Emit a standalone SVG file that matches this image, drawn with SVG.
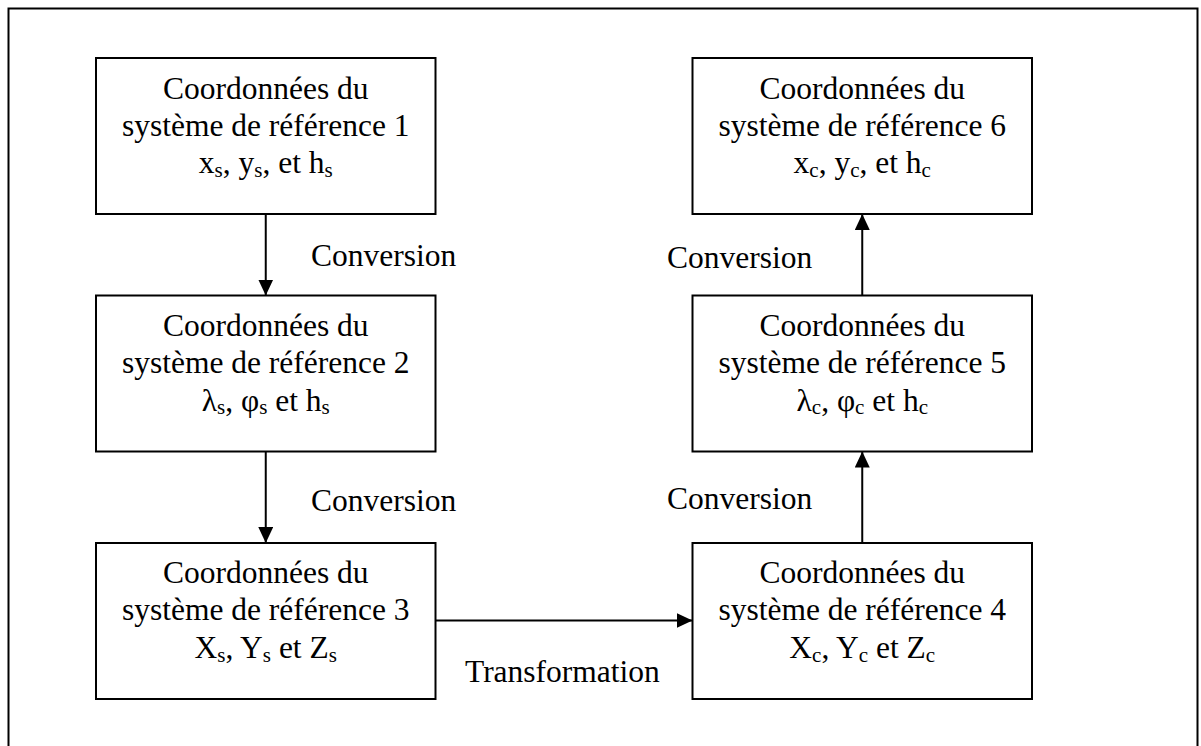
<svg xmlns="http://www.w3.org/2000/svg" width="1201" height="746" viewBox="0 0 1201 746">
<style>
.box{fill:#fff;stroke:#000;stroke-width:2}
.frame{fill:none;stroke:#000;stroke-width:2}
.t{font-family:"Liberation Serif","Times New Roman",serif;font-size:31.5px;fill:#000}
.c{text-anchor:middle}
.sub{font-size:21px}
.conn{stroke:#000;stroke-width:2;fill:none;marker-end:url(#ah)}
</style>
<defs>
<marker id="ah" markerUnits="userSpaceOnUse" markerWidth="16" markerHeight="15" refX="16" refY="7.5" orient="auto">
<path d="M0,0 L16,7.5 L0,15 z" fill="#000"/>
</marker>
</defs>
<rect width="1201" height="746" fill="#fff"/>
<path class="frame" d="M8.5,750 V8.5 H1197.5 V750"/>

<g id="node1">
<rect class="box" x="96" y="58" width="339.5" height="156"/>
<text class="t c" x="265.75" y="98.5">Coordonnées du</text>
<text class="t c" x="265.75" y="135.5">système de référence 1</text>
<text class="t c" x="265.75" y="173">x<tspan class="sub" dy="3.5">s</tspan><tspan dy="-3.5">, y</tspan><tspan class="sub" dy="3.5">s</tspan><tspan dy="-3.5">, et h</tspan><tspan class="sub" dy="3.5">s</tspan></text>
</g>

<g id="node2">
<rect class="box" x="96" y="295.5" width="339.5" height="156"/>
<text class="t c" x="265.75" y="335.5">Coordonnées du</text>
<text class="t c" x="265.75" y="372.5">système de référence 2</text>
<text class="t c" x="265.75" y="410.5">λ<tspan class="sub" dy="3.5">s</tspan><tspan dy="-3.5">, φ</tspan><tspan class="sub" dy="3.5">s</tspan><tspan dy="-3.5"> et h</tspan><tspan class="sub" dy="3.5">s</tspan></text>
</g>

<g id="node3">
<rect class="box" x="96" y="543" width="339.5" height="156"/>
<text class="t c" x="265.75" y="583">Coordonnées du</text>
<text class="t c" x="265.75" y="620">système de référence 3</text>
<text class="t c" x="265.75" y="658">X<tspan class="sub" dy="3.5">s</tspan><tspan dy="-3.5">, Y</tspan><tspan class="sub" dy="3.5">s</tspan><tspan dy="-3.5"> et Z</tspan><tspan class="sub" dy="3.5">s</tspan></text>
</g>

<g id="node4">
<rect class="box" x="692.5" y="543" width="339.5" height="156"/>
<text class="t c" x="862.25" y="583">Coordonnées du</text>
<text class="t c" x="862.25" y="620">système de référence 4</text>
<text class="t c" x="862.25" y="658">X<tspan class="sub" dy="3.5">c</tspan><tspan dy="-3.5">, Y</tspan><tspan class="sub" dy="3.5">c</tspan><tspan dy="-3.5"> et Z</tspan><tspan class="sub" dy="3.5">c</tspan></text>
</g>

<g id="node5">
<rect class="box" x="692.5" y="295.5" width="339.5" height="156"/>
<text class="t c" x="862.25" y="335.5">Coordonnées du</text>
<text class="t c" x="862.25" y="372.5">système de référence 5</text>
<text class="t c" x="862.25" y="410.5">λ<tspan class="sub" dy="3.5">c</tspan><tspan dy="-3.5">, φ</tspan><tspan class="sub" dy="3.5">c</tspan><tspan dy="-3.5"> et h</tspan><tspan class="sub" dy="3.5">c</tspan></text>
</g>

<g id="node6">
<rect class="box" x="692.5" y="58" width="339.5" height="156"/>
<text class="t c" x="862.25" y="98.5">Coordonnées du</text>
<text class="t c" x="862.25" y="135.5">système de référence 6</text>
<text class="t c" x="862.25" y="173">x<tspan class="sub" dy="3.5">c</tspan><tspan dy="-3.5">, y</tspan><tspan class="sub" dy="3.5">c</tspan><tspan dy="-3.5">, et h</tspan><tspan class="sub" dy="3.5">c</tspan></text>
</g>

<g id="connectors">
<line class="conn" x1="265.75" y1="214" x2="265.75" y2="295.5"/>
<line class="conn" x1="265.75" y1="451.5" x2="265.75" y2="543"/>
<line class="conn" x1="435.5" y1="620.5" x2="692.5" y2="620.5"/>
<line class="conn" x1="862.25" y1="543" x2="862.25" y2="451.5"/>
<line class="conn" x1="862.25" y1="295.5" x2="862.25" y2="214"/>
<text class="t" x="311" y="265.5">Conversion</text>
<text class="t" x="311" y="511">Conversion</text>
<text class="t" x="465" y="681.5">Transformation</text>
<text class="t" x="667" y="268">Conversion</text>
<text class="t" x="667" y="509">Conversion</text>
</g>
</svg>
